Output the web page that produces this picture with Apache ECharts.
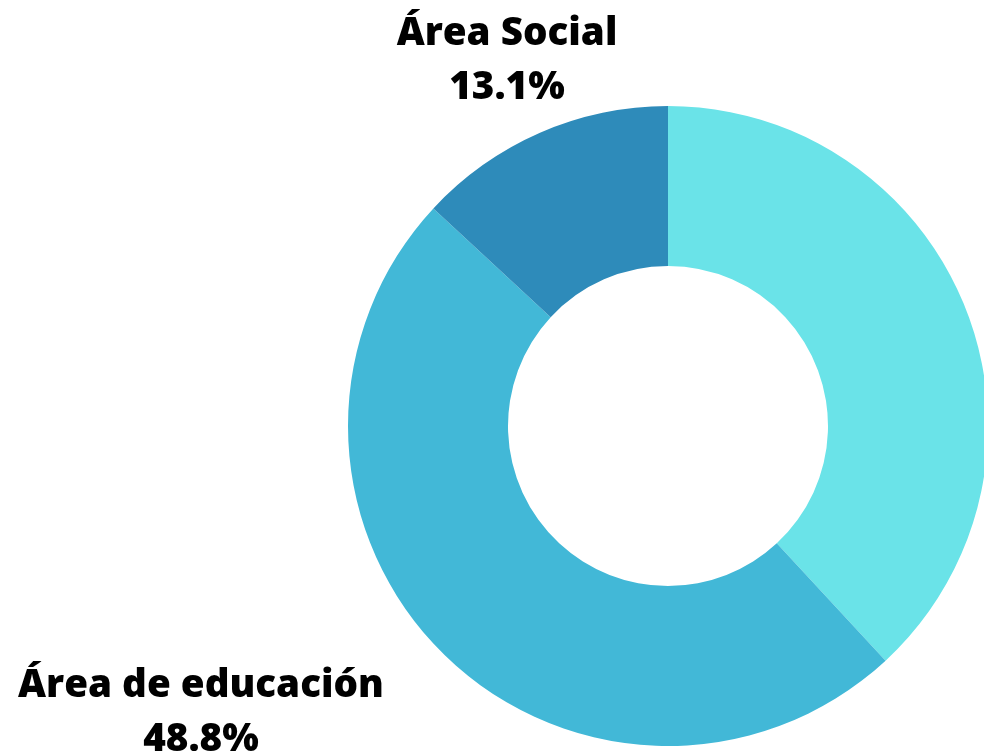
<!DOCTYPE html>
<html><head><meta charset="utf-8">
<script src="https://cdn.jsdelivr.net/npm/echarts@6/dist/echarts.min.js"></script>
<style>html,body{margin:0;padding:0;background:#fff}#c{width:984px;height:755px}</style>
</head><body><div id="c"></div>
<script>
const categories = ['Otras áreas', 'Área de educación', 'Área Social'];
const values = [38.1, 48.8, 13.1];
const colors = ['#6ae3e8', '#42b8d7', '#2e8bba'];
const labelSpots = [[1060, 400], [201, 713], [507, 61]];

const chart = echarts.init(document.getElementById('c'));
chart.setOption({
  animation: false,
  series: [{
    type: 'pie',
    center: [668, 426],
    radius: [160, 320],
    startAngle: 90,
    clockwise: true,
    data: categories.map((n, i) => ({ name: n, value: values[i], itemStyle: { color: colors[i] } })),
    label: {
      show: true,
      position: 'outside',
      formatter: p => p.name + '\n' + p.value.toFixed(1) + '%',
      fontFamily: 'Open Sans',
      fontWeight: 800,
      fontSize: 38.6,
      lineHeight: 54,
      color: '#000',
      align: 'center'
    },
    labelLine: { show: false },
    labelLayout: p => ({ x: labelSpots[p.dataIndex][0], y: labelSpots[p.dataIndex][1], align: 'center', verticalAlign: 'middle' }),
    emphasis: { disabled: true }
  }]
});
</script></body></html>
